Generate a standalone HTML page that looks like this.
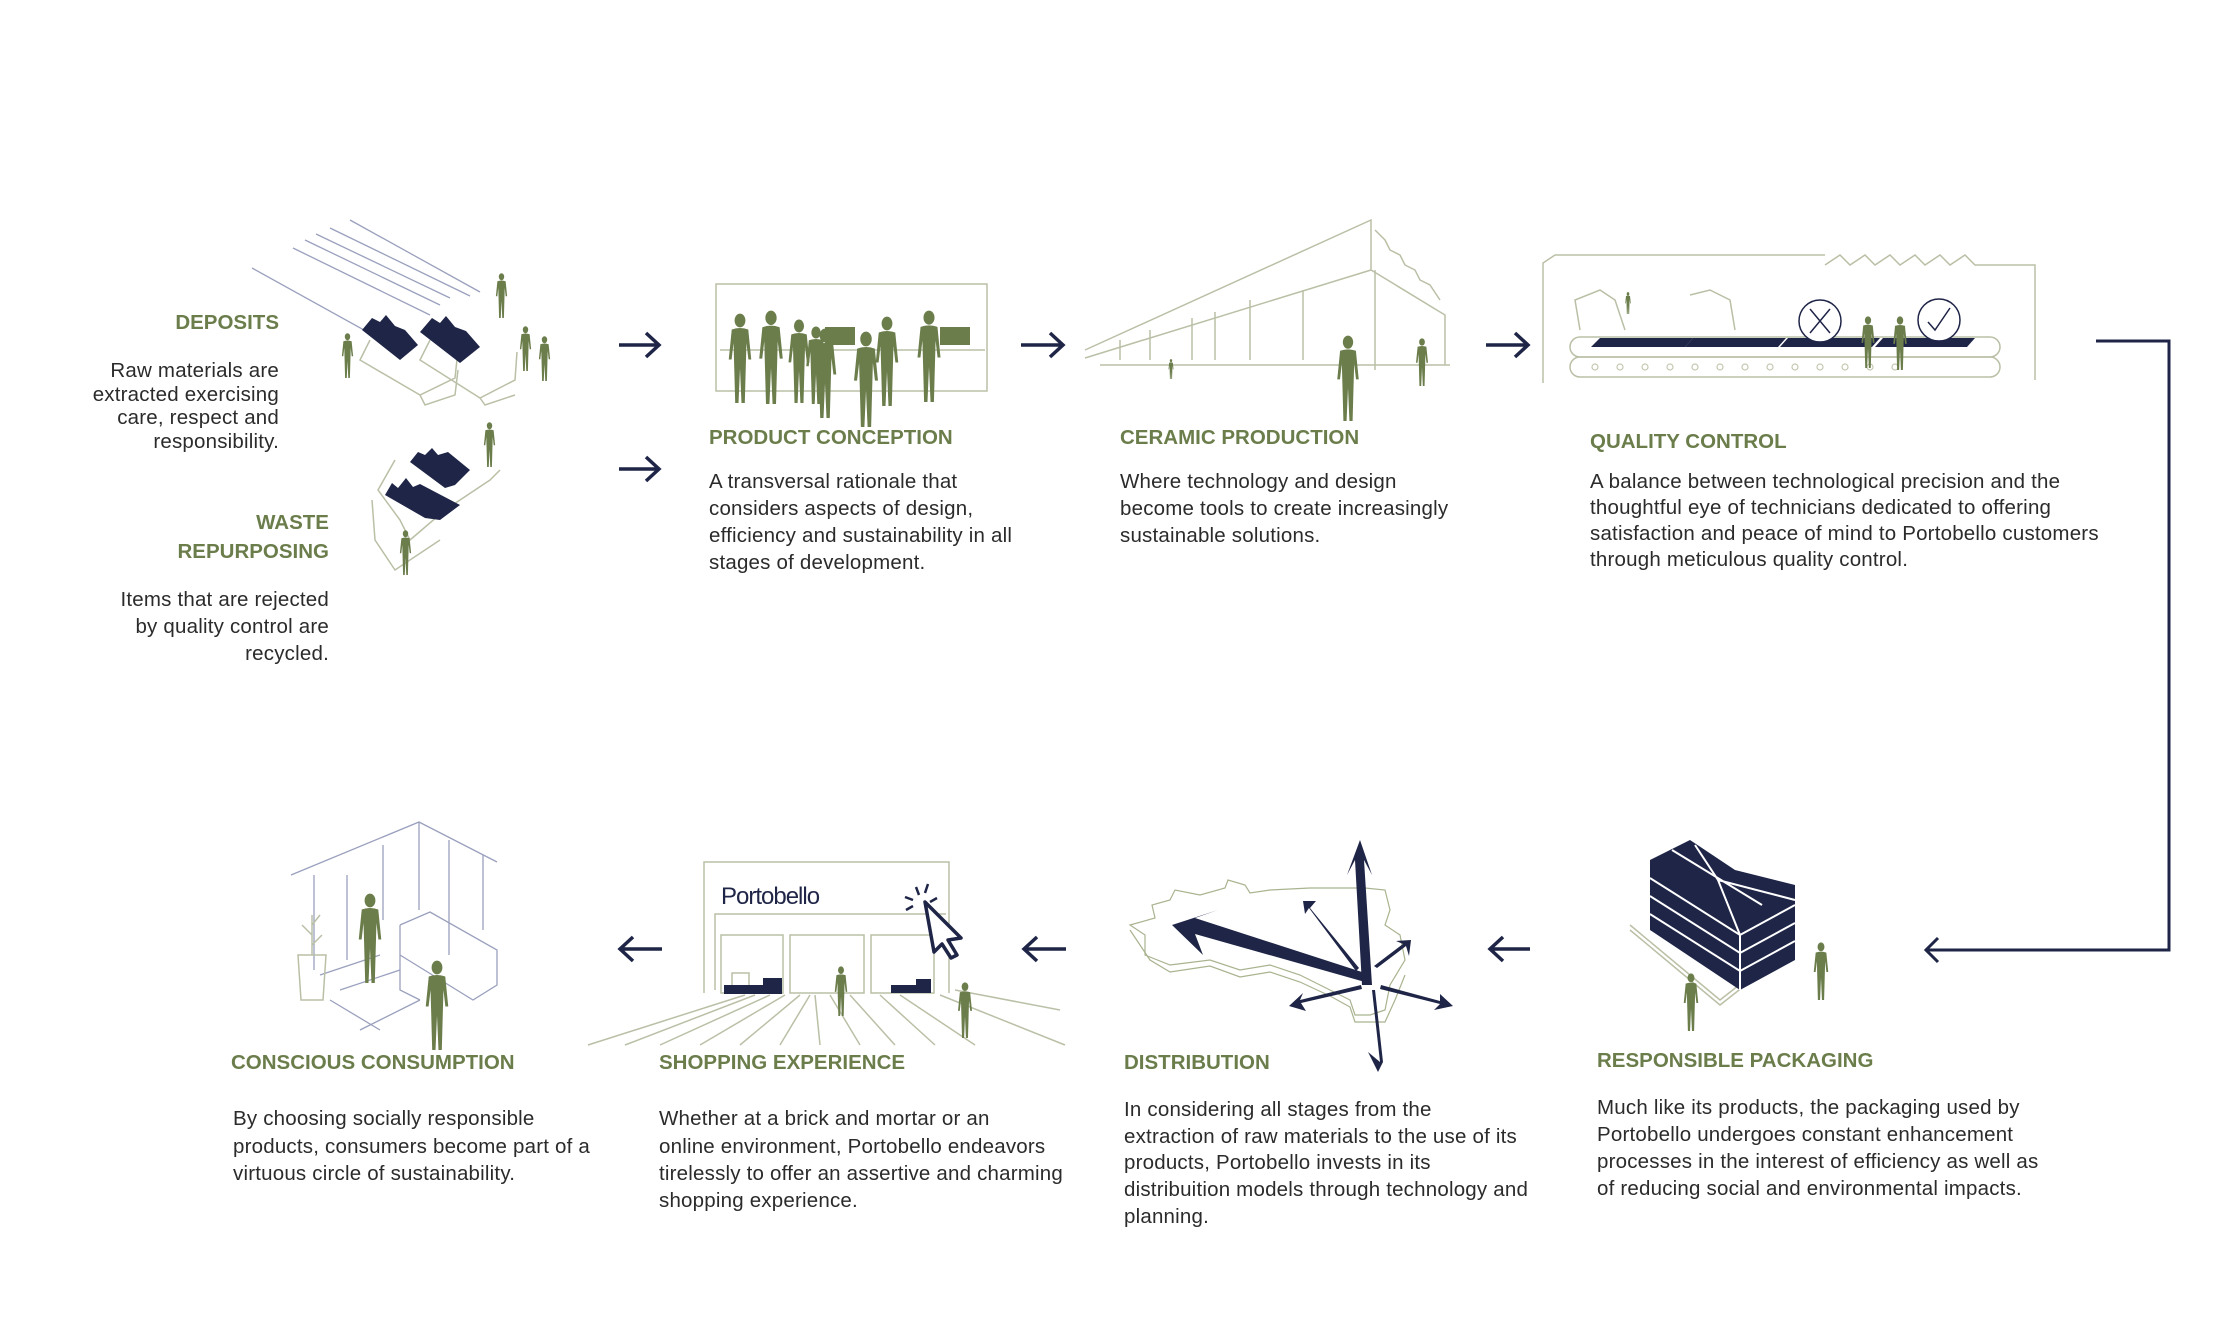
<!DOCTYPE html>
<html><head><meta charset="utf-8"><style>
html,body{margin:0;padding:0;background:#fff}
svg{display:block}
.t{font-family:"Liberation Sans",sans-serif;font-weight:bold;font-size:20.5px;fill:#6b7d4b}
.b{font-family:"Liberation Sans",sans-serif;font-size:20.5px;letter-spacing:0.2px;fill:#2b2b2b}
.ln{fill:none;stroke:#b9c0a6;stroke-width:1.5}
.lb{fill:none;stroke:#9aa0bd;stroke-width:1.3}
.nv{fill:#1f2547}
.ar{fill:none;stroke:#1f2547;stroke-width:3.5}
</style></head><body>
<svg width="2240" height="1330" viewBox="0 0 2240 1330" xmlns="http://www.w3.org/2000/svg">
<defs>
<symbol id="p" viewBox="0 0 20 60"><g fill="#6b7d4b"><ellipse cx="10" cy="5" rx="3.6" ry="4.6"/><path d="M4.5 11 Q10 9 15.5 11 L17.5 31 L15.6 31 L14.3 20 L13.2 60 L11 60 L10 37 L9 60 L6.8 60 L5.7 20 L4.4 31 L2.5 31 Z"/></g></symbol>
</defs>

<!-- ============ DEPOSITS ============ -->
<g class="lb">
<line x1="252" y1="268" x2="400" y2="350"/><line x1="293" y1="248" x2="430" y2="315"/>
<line x1="305" y1="240" x2="440" y2="305"/><line x1="316" y1="234" x2="450" y2="298"/>
<line x1="330" y1="228" x2="470" y2="296"/><line x1="350" y1="220" x2="480" y2="292"/>
</g>
<g class="ln">
<path d="M370 340 L360 360 L420 395 L455 378 L458 350"/><path d="M420 395 L425 405 L455 395 L458 370"/>
<path d="M430 340 L420 360 L480 398 L515 380 L517 352"/><path d="M480 398 L485 405 L515 395"/>
</g>
<path class="nv" d="M362 330 L372 318 L380 322 L386 315 L395 326 L405 330 L418 345 L400 360 Z"/>
<path class="nv" d="M420 332 L432 318 L440 323 L446 316 L455 327 L466 331 L480 347 L460 363 Z"/>
<use href="#p" x="494" y="273" width="15" height="45"/>
<use href="#p" x="340" y="333" width="15" height="45"/>
<use href="#p" x="518" y="326" width="15" height="45"/>
<use href="#p" x="537" y="336" width="15" height="45"/>

<!-- WASTE -->
<g class="ln">
<path d="M395 460 L378 490 L400 520 L410 540 L445 510 L490 480 L500 470"/>
<path d="M372 500 L375 540 L395 570 L440 540"/>
</g>
<path class="nv" d="M410 462 L418 452 L425 455 L432 448 L438 455 L448 452 L470 470 L455 485 L445 488 Z"/>
<path class="nv" d="M385 495 L392 483 L398 488 L406 478 L413 487 L420 484 L460 505 L440 520 L425 518 Z"/>
<use href="#p" x="482" y="422" width="15" height="45"/>
<use href="#p" x="398" y="530" width="15" height="45"/>

<text class="t" x="279" y="329" text-anchor="end">DEPOSITS</text>
<text class="b" text-anchor="end"><tspan x="279" y="377">Raw materials are</tspan><tspan x="279" y="401">extracted exercising</tspan><tspan x="279" y="424">care, respect and</tspan><tspan x="279" y="448">responsibility.</tspan></text>
<text class="t" text-anchor="end"><tspan x="329" y="529">WASTE</tspan><tspan x="329" y="558">REPURPOSING</tspan></text>
<text class="b" text-anchor="end"><tspan x="329" y="606">Items that are rejected</tspan><tspan x="329" y="633">by quality control are</tspan><tspan x="329" y="660">recycled.</tspan></text>

<!-- arrows row1 -->
<g class="ar">
<path d="M619 345 H658 M646 333 L659 345 L646 357"/>
<path d="M619 469 H658 M646 457 L659 469 L646 481"/>
<path d="M1021 345 H1062 M1050 333 L1063 345 L1050 357"/>
<path d="M1486 345 H1527 M1515 333 L1528 345 L1515 357"/>
</g>

<!-- ============ PRODUCT CONCEPTION ============ -->
<rect x="716" y="284" width="271" height="107" class="ln"/>
<rect x="825" y="327" width="30" height="18" fill="#6b7d4b"/><rect x="940" y="327" width="30" height="18" fill="#6b7d4b"/>
<line x1="720" y1="350" x2="985" y2="350" class="ln"/>
<use href="#p" x="725" y="313" width="30" height="90"/>
<use href="#p" x="755" y="310" width="32" height="94"/>
<use href="#p" x="785" y="318" width="28" height="86"/>
<use href="#p" x="803" y="322" width="26" height="86"/>
<use href="#p" x="810" y="328" width="30" height="90"/>
<use href="#p" x="850" y="330" width="32" height="98"/>
<use href="#p" x="872" y="315" width="30" height="92"/>
<use href="#p" x="913" y="310" width="32" height="92"/>
<text class="t" x="709" y="444">PRODUCT CONCEPTION</text>
<text class="b"><tspan x="709" y="488">A transversal rationale that</tspan><tspan x="709" y="515">considers aspects of design,</tspan><tspan x="709" y="542">efficiency and sustainability in all</tspan><tspan x="709" y="569">stages of development.</tspan></text>

<!-- ============ CERAMIC ============ -->
<g class="ln">
<path d="M1085 350 L1371 220 L1371 270 L1445 315 L1445 365"/>
<path d="M1085 358 L1371 270"/>
<path d="M1100 365 L1450 365 M1375 270 L1375 370"/>
<line x1="1120" y1="340" x2="1120" y2="360"/><line x1="1150" y1="330" x2="1150" y2="360"/><line x1="1192" y1="318" x2="1192" y2="360"/><line x1="1215" y1="312" x2="1215" y2="360"/><line x1="1250" y1="300" x2="1250" y2="360"/><line x1="1303" y1="290" x2="1303" y2="360"/>
<path d="M1375 230 L1385 240 L1390 250 L1400 255 L1405 265 L1415 270 L1420 280 L1430 285 L1440 300"/>
</g>
<use href="#p" x="1330" y="335" width="36" height="86"/>
<use href="#p" x="1411" y="338" width="22" height="48"/>
<use href="#p" x="1166" y="359" width="10" height="20"/>
<text class="t" x="1120" y="444">CERAMIC PRODUCTION</text>
<text class="b"><tspan x="1120" y="488">Where technology and design</tspan><tspan x="1120" y="515">become tools to create increasingly</tspan><tspan x="1120" y="542">sustainable solutions.</tspan></text>

<!-- ============ QUALITY ============ -->
<g class="ln">
<path d="M1543 383 L1543 263 L1555 255 L1825 255"/>
<path d="M1825 265 L1840 255 L1850 265 L1865 255 L1875 265 L1890 255 L1900 265 L1915 255 L1925 265 L1940 255 L1950 265 L1965 255 L1975 265 L2035 265 L2035 380"/>
<rect x="1570" y="337" width="430" height="20" rx="10"/><rect x="1570" y="357" width="430" height="20" rx="10"/>
<path d="M1580 330 L1575 300 L1600 290 L1615 300 L1625 330"/>
<path d="M1690 295 L1710 290 L1730 300 L1735 330"/>
</g>
<g fill="none" stroke="#c3c8b0" stroke-width="1.2">
<circle cx="1595" cy="367" r="3"/><circle cx="1620" cy="367" r="3"/><circle cx="1645" cy="367" r="3"/><circle cx="1670" cy="367" r="3"/><circle cx="1695" cy="367" r="3"/><circle cx="1720" cy="367" r="3"/><circle cx="1745" cy="367" r="3"/><circle cx="1770" cy="367" r="3"/><circle cx="1795" cy="367" r="3"/><circle cx="1820" cy="367" r="3"/><circle cx="1845" cy="367" r="3"/><circle cx="1870" cy="367" r="3"/><circle cx="1895" cy="367" r="3"/>
</g>
<g class="nv"><path d="M1600 338 H1693 L1685 347 H1591 Z"/><path d="M1693 338 H1786 L1778 347 H1685 Z"/><path d="M1788 338 H1880 L1872 347 H1780 Z"/><path d="M1883 338 H1975 L1967 347 H1875 Z"/></g>
<circle cx="1820" cy="321" r="21" fill="#fff" stroke="#1f2547" stroke-width="1.5"/>
<path d="M1810 309 L1830 333 M1830 309 L1810 333" stroke="#1f2547" stroke-width="1.5"/>
<circle cx="1939" cy="320" r="21" fill="#fff" stroke="#1f2547" stroke-width="1.5"/>
<path d="M1928 322 L1935 330 L1950 308" fill="none" stroke="#1f2547" stroke-width="1.5"/>
<use href="#p" x="1858" y="316" width="20" height="52"/>
<use href="#p" x="1890" y="316" width="20" height="54"/>
<use href="#p" x="1620" y="292" width="16" height="22"/>
<text class="t" x="1590" y="448">QUALITY CONTROL</text>
<text class="b"><tspan x="1590" y="488">A balance between technological precision and the</tspan><tspan x="1590" y="514">thoughtful eye of technicians dedicated to offering</tspan><tspan x="1590" y="540">satisfaction and peace of mind to Portobello customers</tspan><tspan x="1590" y="566">through meticulous quality control.</tspan></text>

<!-- connector -->
<path d="M2096 341 H2169 V950 H1926" fill="none" stroke="#1f2547" stroke-width="3"/>
<path d="M1938 938 L1926 950 L1938 962" fill="none" stroke="#1f2547" stroke-width="3"/>

<!-- arrows row2 -->
<g class="ar">
<path d="M662 949 H621 M633 937 L620 949 L633 961"/>
<path d="M1066 949 H1025 M1037 937 L1024 949 L1037 961"/>
<path d="M1530 949 H1491 M1503 937 L1490 949 L1503 961"/>
</g>

<!-- ============ PACKAGING ============ -->
<g class="ln"><path d="M1630 925 L1720 1000 L1790 945 M1630 930 L1720 1005 L1790 950"/></g>
<g class="nv">
<path d="M1650 860 L1690 840 L1735 870 L1795 885 L1795 960 L1740 990 L1650 930 Z"/>
</g>
<g stroke="#fff" stroke-width="2" fill="none">
<path d="M1650 878 L1740 935 L1795 905 M1650 896 L1740 953 L1795 923 M1650 914 L1740 971 L1795 941"/>
<path d="M1672 850 L1762 905 M1695 845 L1718 880 L1740 935 L1740 990 M1718 880 L1795 900"/>
</g>
<use href="#p" x="1680" y="973" width="22" height="58"/>
<use href="#p" x="1810" y="942" width="22" height="58"/>
<text class="t" x="1597" y="1067">RESPONSIBLE PACKAGING</text>
<text class="b"><tspan x="1597" y="1114">Much like its products, the packaging used by</tspan><tspan x="1597" y="1141">Portobello undergoes constant enhancement</tspan><tspan x="1597" y="1168">processes in the interest of efficiency as well as</tspan><tspan x="1597" y="1195">of reducing social and environmental impacts.</tspan></text>

<!-- ============ DISTRIBUTION ============ -->
<g fill="none" stroke="#a9b38f" stroke-width="1.2">
<path d="M1130 925 L1155 918 L1152 905 L1170 900 L1175 890 L1200 895 L1225 888 L1228 880 L1245 885 L1250 893 L1270 890 L1310 888 L1365 888 L1385 890 L1390 910 L1385 925 L1400 935 L1405 960 L1390 985 L1385 1010 L1370 1015 L1355 1015 L1350 1000 L1330 990 L1300 975 L1270 965 L1240 970 L1210 960 L1170 965 L1145 955 L1145 935 Z"/>
<path d="M1130 930 L1140 945 L1150 960 L1170 972 L1210 966 L1240 977 L1270 972 L1300 982 L1330 996 L1350 1007 L1355 1022 L1385 1022 L1395 1000 L1405 975"/>
</g>
<g class="nv">
<path d="M1365 973 L1195 918 L1218 910 L1172 925 L1203 955 L1195 934 L1365 982 Z"/>
<path d="M1362 985 L1355 860 L1347 875 L1360 840 L1372 875 L1364 860 L1372 985 Z"/>
<path d="M1359 968 L1310 908 L1316 901 L1303 901 L1305 914 L1309 908 L1356 971 Z"/>
<path d="M1377 968 L1406 946 L1409 956 L1411 940 L1396 941 L1403 944 L1374 966 Z"/>
<path d="M1361 985 L1300 1000 L1303 993 L1289 1006 L1306 1011 L1301 1003 L1362 989 Z"/>
<path d="M1380 989 L1440 1004 L1434 1010 L1453 1006 L1440 994 L1440 1001 L1381 985 Z"/>
<path d="M1372 990 L1380 1062 L1368 1052 L1378 1072 L1388 1052 L1383 1062 L1375 990 Z"/>
</g>
<text class="t" x="1124" y="1069">DISTRIBUTION</text>
<text class="b"><tspan x="1124" y="1116">In considering all stages from the</tspan><tspan x="1124" y="1143">extraction of raw materials to the use of its</tspan><tspan x="1124" y="1169">products, Portobello invests in its</tspan><tspan x="1124" y="1196">distribuition models through technology and</tspan><tspan x="1124" y="1223">planning.</tspan></text>

<!-- ============ SHOPPING ============ -->
<g class="ln">
<path d="M704 993 V862 H949 V993"/>
<path d="M715 990 V914 H946"/>
<rect x="721" y="935" width="62" height="58"/><rect x="790" y="935" width="74" height="58"/><rect x="871" y="935" width="63" height="58"/>
<path d="M588 1045 L745 995 M625 1045 L755 995 M660 1045 L770 995 M700 1045 L785 995 M740 1045 L800 995 M780 1045 L810 995 M820 1045 L815 995 M860 1045 L830 995 M895 1045 L850 995 M935 1045 L880 995 M975 1045 L900 995 M1065 1045 L940 995 M1060 1010 L955 990"/>
<rect x="732" y="973" width="17" height="18"/>
</g>
<rect x="724" y="985" width="58" height="9" class="nv"/><rect x="763" y="978" width="19" height="7" class="nv"/>
<rect x="891" y="985" width="40" height="8" class="nv"/><rect x="916" y="979" width="15" height="6" class="nv"/>
<text x="721" y="904" font-family="Liberation Sans,sans-serif" font-size="24" fill="#1f2547" letter-spacing="-1">Portobello</text>
<path d="M925 902 L961 938 L948 940 L957 955 L951 958 L942 944 L934 952 Z" fill="#fff" stroke="#1f2547" stroke-width="3.5" stroke-linejoin="round"/>
<g stroke="#1f2547" stroke-width="2.5"><path d="M916 887 L919 895 M928 884 L925 893 M905 897 L913 900 M906 910 L913 906 M937 898 L930 902"/></g>
<use href="#p" x="832" y="966" width="18" height="50"/>
<use href="#p" x="955" y="982" width="20" height="56"/>
<text class="t" x="659" y="1069">SHOPPING EXPERIENCE</text>
<text class="b"><tspan x="659" y="1125">Whether at a brick and mortar or an</tspan><tspan x="659" y="1153">online environment, Portobello endeavors</tspan><tspan x="659" y="1180">tirelessly to offer an assertive and charming</tspan><tspan x="659" y="1207">shopping experience.</tspan></text>

<!-- ============ CONSCIOUS ============ -->
<g class="lb">
<path d="M291 875 L419 822 L497 862"/>
<path d="M314 875 V970 M347 875 V960 M383 845 V920 M449 840 V955 M483 855 V930 M419 822 V910"/>
<path d="M400 925 L400 990 L420 1000 M400 925 L430 912 L497 950 L497 985 L473 1000 L400 955"/>
<path d="M320 975 L380 955 M340 990 L400 970 M330 1000 L380 1030 M360 1030 L420 1000"/>
</g>
<g class="ln"><path d="M298 955 H326 L323 1000 H301 Z"/><path d="M312 955 V915 M312 935 L302 925 M312 945 L322 935 M312 925 L320 915"/></g>
<use href="#p" x="353" y="893" width="34" height="90"/>
<use href="#p" x="420" y="960" width="34" height="90"/>
<text class="t" x="231" y="1069">CONSCIOUS CONSUMPTION</text>
<text class="b"><tspan x="233" y="1125">By choosing socially responsible</tspan><tspan x="233" y="1153">products, consumers become part of a</tspan><tspan x="233" y="1180">virtuous circle of sustainability.</tspan></text>
</svg>
</body></html>
